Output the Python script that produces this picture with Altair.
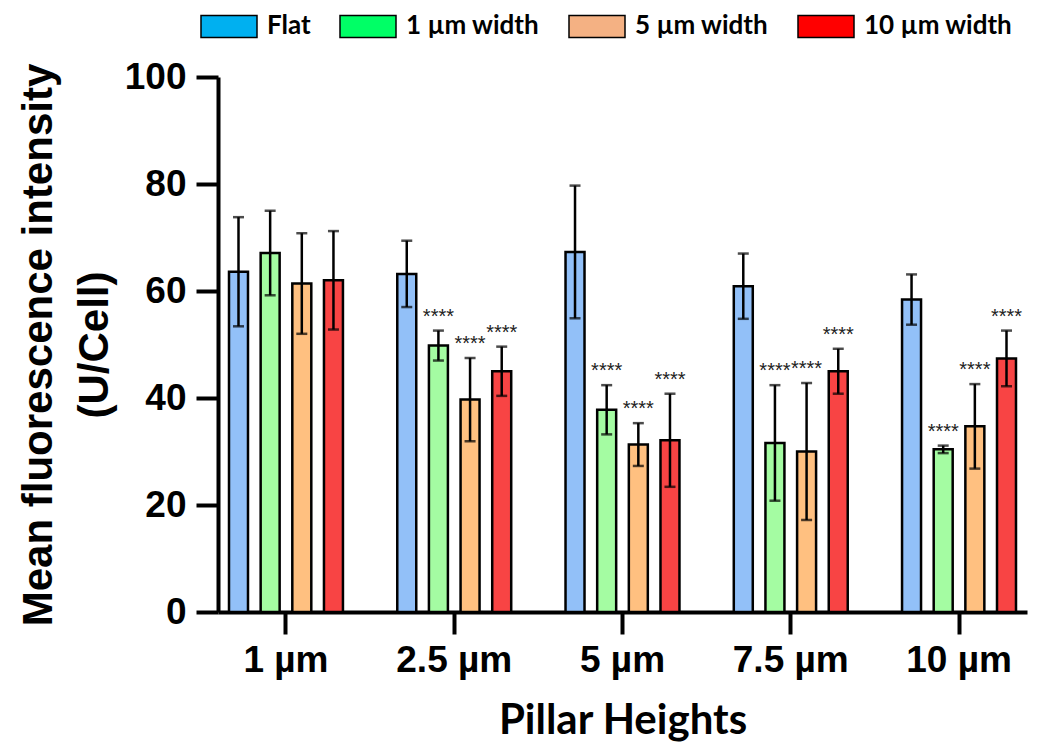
import altair as alt
import pandas as pd

heights = ["1 µm", "2.5 µm", "5 µm", "7.5 µm", "10 µm"]
groups = ["Flat", "1 µm width", "5 µm width", "10 µm width"]

flat_mean = [63.6, 63.2, 67.3, 60.9, 58.4]
flat_sd = [10.2, 6.2, 12.4, 6.1, 4.7]
w1_mean = [67.1, 49.8, 37.8, 31.6, 30.4]
w1_sd = [7.9, 2.8, 4.6, 10.8, 0.7]
w5_mean = [61.4, 39.7, 31.3, 30.0, 34.7]
w5_sd = [9.4, 7.8, 4.0, 12.8, 7.9]
w10_mean = [62.0, 45.0, 32.1, 45.0, 47.4]
w10_sd = [9.2, 4.6, 8.7, 4.2, 5.2]

flat_sig = ["", "", "", "", ""]
w1_sig = ["", "****", "****", "****", "****"]
w5_sig = ["", "****", "****", "****", "****"]
w10_sig = ["", "****", "****", "****", "****"]

bar_colors = ["#92C0F8", "#A4FCA2", "#FFC080", "#F84444"]
legend_colors = ["#00B0F0", "#00FF66", "#F4B183", "#FF0000"]

means = [flat_mean, w1_mean, w5_mean, w10_mean]
sds = [flat_sd, w1_sd, w5_sd, w10_sd]
sigs = [flat_sig, w1_sig, w5_sig, w10_sig]

rows = []
for g, m, s, sg in zip(groups, means, sds, sigs):
    for h, mv, sv, sgv in zip(heights, m, s, sg):
        rows.append({"height": h, "group": g, "mean": mv, "sd": sv, "sig": sgv})
df = pd.DataFrame(rows)

base = alt.Chart(df).transform_calculate(
    upper="datum.mean + datum.sd", lower="datum.mean - datum.sd"
)

x_enc = alt.X(
    "height:N",
    sort=heights,
    scale=alt.Scale(paddingInner=0.24, paddingOuter=0.024),
    axis=alt.Axis(
        title="Pillar Heights",
        labelAngle=0,
        labelFont="Liberation Sans",
        labelFontSize=37,
        labelFontWeight="bold",
        labelPadding=8,
        titleFont="Lato",
        titleFontSize=42,
        titleFontWeight="bold",
        titlePadding=22,
    ),
)
xo_enc = alt.XOffset(
    "group:N", sort=groups, scale=alt.Scale(paddingInner=0.4, paddingOuter=0.22)
)

bars = base.mark_bar(stroke="black", strokeWidth=2.5).encode(
    x=x_enc,
    xOffset=xo_enc,
    y=alt.Y(
        "mean:Q",
        scale=alt.Scale(domain=[0, 100], nice=False),
        axis=alt.Axis(
            values=[0, 20, 40, 60, 80, 100],
            title=["Mean fluorescence intensity", "(U/Cell)"],
            labelFont="Liberation Sans",
            labelFontSize=37,
            labelFontWeight="bold",
            labelPadding=10,
            titleFont="Liberation Sans",
            titleFontSize=42,
            titleFontWeight="bold",
            titleLineHeight=56,
            titlePadding=8,
        ),
    ),
    fill=alt.Fill("group:N", sort=groups,
                  scale=alt.Scale(domain=groups, range=bar_colors), legend=None),
)

legend_layer = base.mark_square(opacity=0).encode(
    x=x_enc,
    xOffset=xo_enc,
    y="mean:Q",
    color=alt.Color(
        "group:N",
        sort=groups,
        scale=alt.Scale(domain=groups, range=legend_colors),
        legend=alt.Legend(
            title=None,
            orient="none",
            direction="horizontal",
            legendX=-4,
            legendY=-66,
            padding=0,
            symbolType="M-2,-0.786H2V0.786H-2Z",
            symbolSize=784,
            symbolStrokeColor="black",
            symbolStrokeWidth=1.5,
            symbolOpacity=1,
            labelFont="Lato",
            labelFontSize=26,
            labelFontWeight="bold",
            labelColor="black",
            labelOffset=23,
            columnPadding=26,
        ),
    ),
)

rules = base.mark_rule(color="black", strokeWidth=2.5).encode(
    x=x_enc, xOffset=xo_enc, y="lower:Q", y2="upper:Q"
)
caps_hi = base.mark_tick(color="black", size=11, thickness=2.5).encode(
    x=x_enc, xOffset=xo_enc, y="upper:Q"
)
caps_lo = base.mark_tick(color="black", size=11, thickness=2.5).encode(
    x=x_enc, xOffset=xo_enc, y="lower:Q"
)
stars = base.mark_text(
    font="Liberation Sans", fontSize=20, color="#222222", baseline="alphabetic", dy=-8
).encode(x=x_enc, xOffset=xo_enc, y="upper:Q", text="sig:N")

chart = (
    alt.layer(bars, legend_layer, rules, caps_hi, caps_lo, stars)
    .resolve_scale(color="independent", fill="independent")
    .properties(
        width=809,
        height=535,
        autosize=alt.AutoSizeParams(type="none"),
        padding={"left": 210, "top": 69, "right": 5, "bottom": 134},
    )
    .configure_view(stroke=None)
    .configure_axis(
        grid=False,
        domainColor="black",
        domainWidth=4,
        tickColor="black",
        tickWidth=4,
        tickSize=22,
        labelColor="black",
        titleColor="black",
    )
)

chart.save("out.html", embed_options={"renderer": "svg", "actions": False})
